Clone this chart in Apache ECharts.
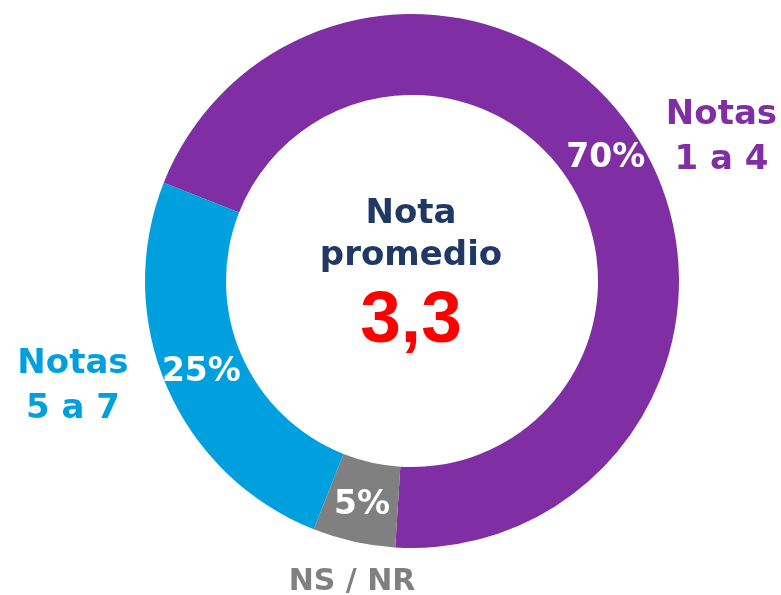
<!DOCTYPE html>
<html>
<head>
<meta charset="utf-8">
<script src="https://cdn.jsdelivr.net/npm/echarts@6/dist/echarts.min.js"></script>
<style>
  html, body { margin: 0; padding: 0; background: #fff; }
  #chart { width: 781px; height: 595px; }
</style>
</head>
<body>
<div id="chart"></div>
<script>
// datos del grafico
const categories = ['Notas\n1 a 4', 'NS / NR', 'Notas\n5 a 7'];
const values = [70, 5, 25];
const colors = ['#7f2fa3', '#808080', '#00a0df'];
const centerTitle = 'Nota\npromedio';
const average = '3,3';

const FONT = '"DejaVu Sans", sans-serif';

let chart = echarts.init(document.getElementById('chart'));

chart.setOption({
    animation: false,
    graphic: [
        {
            type: 'text', x: 411, y: 235, silent: true,
            style: {
                text: centerTitle, align: 'center', verticalAlign: 'middle',
                fontFamily: FONT, fontWeight: 'bold', fontSize: 34, lineHeight: 42,
                fill: '#1f3864'
            }
        },
        {
            type: 'text', x: 411, y: 322, silent: true,
            style: {
                text: average, align: 'center', verticalAlign: 'middle',
                fontFamily: '"Liberation Sans", Arial, sans-serif', fontWeight: 'bold', fontSize: 73,
                fill: '#ff0000'
            }
        }
    ],
    series: [
        {
            // anillo con etiquetas externas
            type: 'pie',
            center: [412, 281],
            radius: [186, 267],
            startAngle: 158.4,
            clockwise: true,
            avoidLabelOverlap: false,
            silent: true,
            emphasis: { disabled: true },
            itemStyle: { borderWidth: 0 },
            label: {
                show: true,
                position: 'outside',
                color: 'inherit',
                fontFamily: FONT,
                fontWeight: 'bold',
                padding: [0, 10, 0, 0],
                formatter: function (p) {
                    let lines = p.name.split('\n');
                    let tag = lines.length > 1 ? 't' : 's';
                    return lines.map(l => '{' + tag + '|' + l + '}').join('\n');
                },
                rich: {
                    t: { width: 116, align: 'center', fontSize: 34, lineHeight: 45, fontWeight: 'bold', fontFamily: FONT },
                    s: { width: 130, align: 'center', fontSize: 30, lineHeight: 40, fontWeight: 'bold', fontFamily: FONT }
                }
            },
            labelLine: { show: false, length: 0, length2: 21 },
            labelLayout: function (p) {
                // la etiqueta pequeña va debajo del sector
                if (categories[p.dataIndex].indexOf('\n') >= 0) return {};
                return {
                    x: p.rect.x + p.rect.width / 2,
                    y: p.rect.y + p.rect.height + 35,
                    align: 'center',
                    verticalAlign: 'middle'
                };
            },
            data: categories.map((name, i) => ({
                name: name,
                value: values[i],
                itemStyle: { color: colors[i] }
            }))
        },
        {
            // porcentajes dentro del anillo
            type: 'pie',
            center: [412, 281],
            radius: [186, 267],
            startAngle: 158.4,
            clockwise: true,
            silent: true,
            emphasis: { disabled: true },
            itemStyle: { color: 'rgba(0,0,0,0)', borderWidth: 0 },
            label: {
                show: true,
                position: 'inside',
                color: '#fff',
                fontFamily: FONT,
                fontWeight: 'bold',
                fontSize: 33,
                formatter: '{c}%'
            },
            labelLine: { show: false },
            data: categories.map((name, i) => ({ name: name, value: values[i] }))
        }
    ]
});

window.onresize = function () {
    chart.resize();
};
</script>
</body>
</html>
